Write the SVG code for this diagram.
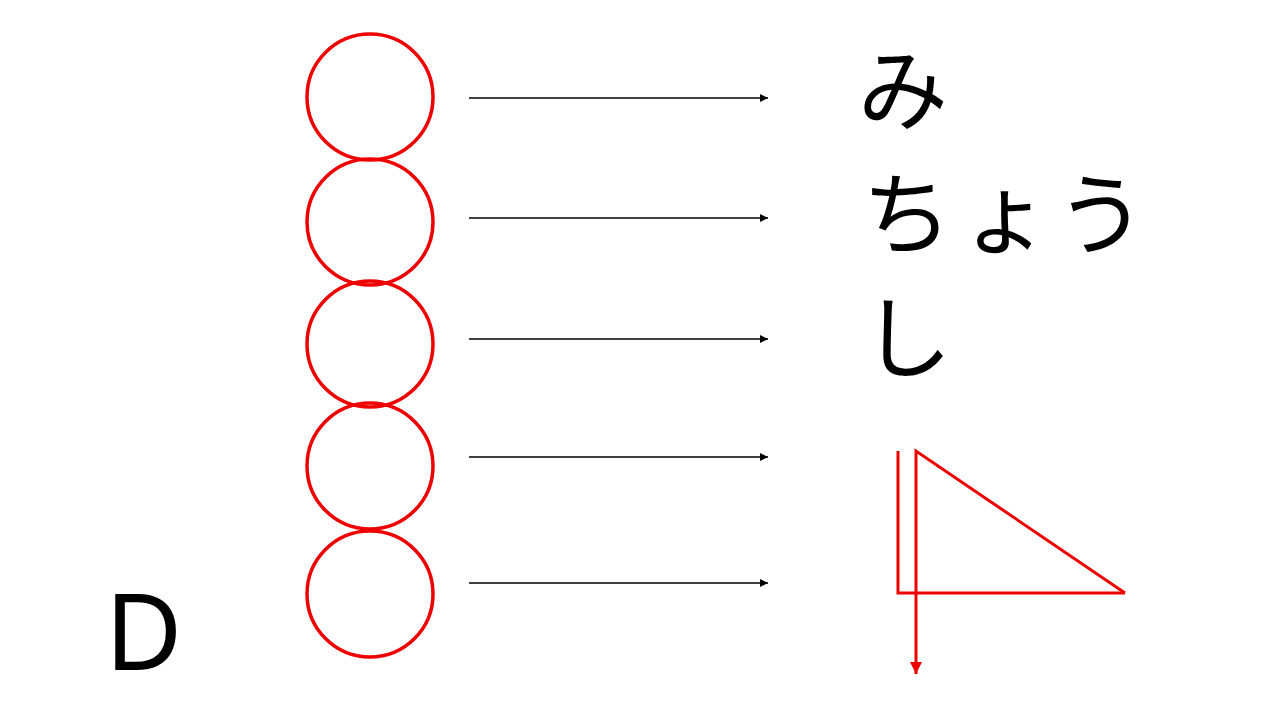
<svg xmlns="http://www.w3.org/2000/svg" width="1280" height="720" viewBox="0 0 1280 720">
<style>
.c{fill:none;stroke:#ee0000;stroke-width:3.5}
.a{stroke:#000;stroke-width:1.5;fill:none}
.r{stroke:#ee0000;stroke-width:3;fill:none}
.jp{font-family:"Noto Sans CJK JP","Noto Sans",sans-serif;font-size:90px;fill:#000}
.d{font-family:"Noto Sans","Noto Sans CJK JP",sans-serif;font-size:106px;fill:#000}
</style>
<defs>
<marker id="ah" viewBox="0 0 10 10" refX="10" refY="5" markerWidth="8" markerHeight="8" markerUnits="userSpaceOnUse" orient="auto"><path d="M0,0 L10,5 L0,10 z" fill="#000"/></marker>
<marker id="rh" viewBox="0 0 10 10" refX="10" refY="5" markerWidth="12" markerHeight="12" markerUnits="userSpaceOnUse" orient="auto"><path d="M0,0 L10,5 L0,10 z" fill="#ee0000"/></marker>
</defs>
<rect width="1280" height="720" fill="#fff"/>
<g id="circles">
<circle class="c" cx="370" cy="97" r="63"/>
<circle class="c" cx="370" cy="222" r="63"/>
<circle class="c" cx="370" cy="344" r="63"/>
<circle class="c" cx="370" cy="466" r="63"/>
<circle class="c" cx="370" cy="594" r="63"/>
</g>
<g id="connectors">
<line class="a" x1="469" y1="98" x2="768" y2="98" marker-end="url(#ah)"/>
<line class="a" x1="469" y1="218" x2="768" y2="218" marker-end="url(#ah)"/>
<line class="a" x1="469" y1="339" x2="768" y2="339" marker-end="url(#ah)"/>
<line class="a" x1="469" y1="457" x2="768" y2="457" marker-end="url(#ah)"/>
<line class="a" x1="469" y1="583" x2="768" y2="583" marker-end="url(#ah)"/>
</g>
<g id="text">
<text class="jp" x="858" y="123">み</text>
<text class="jp" x="862" y="247">ち<tspan x="960">ょ</tspan><tspan x="1056">う</tspan></text>
<text class="jp" x="862" y="371">し</text>
<text class="d" x="105" y="670">D</text>
</g>
<g id="triangle">
<polyline class="r" points="898,451 898,593 1125,593"/>
<polyline class="r" points="1125,593 916,451 916,674" marker-end="url(#rh)"/>
</g>
</svg>
